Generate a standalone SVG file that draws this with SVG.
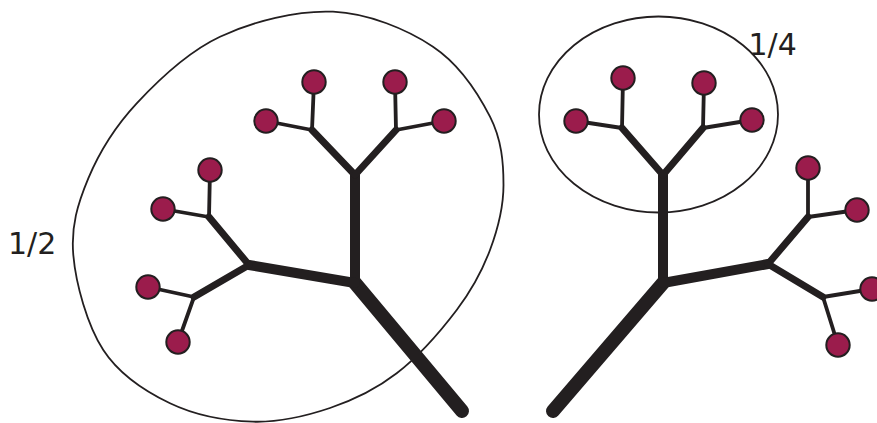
<svg xmlns="http://www.w3.org/2000/svg" width="877" height="423" viewBox="0 0 877 423">
<style>
.outline{fill:none;stroke:#231f20;stroke-width:1.8}
.br{stroke:#231f20;stroke-linecap:round;fill:none}
.w0{stroke-width:14}
.w1{stroke-width:10}
.w2{stroke-width:7}
.w3{stroke-width:3.8}
.leaf{fill:#9b1c4c;stroke:#231f20;stroke-width:2}
.lbl{font-family:"DejaVu Sans","Liberation Sans",sans-serif;font-size:30px;fill:#231f20}
</style>
<rect width="877" height="423" fill="#ffffff"/>
<g id="regions">
<path id="half" class="outline" d="M333,11.7 C368.5,13.4 406.8,29.2 433,46.7 C459.2,64.2 478.25,93.65 490,116.7 C501.75,139.75 503.5,162.8 503.5,185 C503.5,207.2 497.8,229.2 490,250 C482.2,270.8 472.25,289.45 456.7,310 C441.15,330.55 417.8,357 396.7,373.3 C375.6,389.6 353.95,399.93 330,408 C306.05,416.07 279.7,422.48 253,421.7 C226.3,420.92 194.95,415.25 170,403.3 C145.05,391.35 119.4,374.7 103.3,350 C87.2,325.3 75.8,283.6 73.3,255 C70.8,226.4 77.7,203.6 88.3,178.3 C98.9,153 114.75,126.9 136.7,103.3 C158.65,79.7 187.3,52 220,36.7 C252.7,21.4 297.5,10.03 333,11.7 Z"/>
<ellipse id="quarter" class="outline" cx="658.5" cy="114.5" rx="119.5" ry="98"/>
</g>
<g id="connectors">
<line class="br w0" x1="355" y1="283" x2="462" y2="411"/>
<line class="br w1" x1="355" y1="283" x2="355" y2="175"/>
<line class="br w1" x1="355" y1="283" x2="249" y2="265"/>
<line class="br w2" x1="355" y1="175" x2="312" y2="130"/>
<line class="br w2" x1="355" y1="175" x2="396" y2="130"/>
<line class="br w2" x1="249" y1="265" x2="209" y2="217"/>
<line class="br w2" x1="249" y1="265" x2="194" y2="297"/>
<line class="br w3" x1="312" y1="130" x2="314" y2="82"/>
<line class="br w3" x1="312" y1="130" x2="266" y2="121"/>
<line class="br w3" x1="396" y1="130" x2="395" y2="82"/>
<line class="br w3" x1="396" y1="130" x2="444" y2="121"/>
<line class="br w3" x1="209" y1="217" x2="210" y2="170"/>
<line class="br w3" x1="209" y1="217" x2="163" y2="209"/>
<line class="br w3" x1="194" y1="297" x2="148" y2="287"/>
<line class="br w3" x1="194" y1="297" x2="178" y2="342"/>
<line class="br w0" x1="663" y1="283" x2="553" y2="411"/>
<line class="br w1" x1="663" y1="283" x2="663" y2="175"/>
<line class="br w1" x1="663" y1="283" x2="768" y2="264"/>
<line class="br w2" x1="663" y1="175" x2="622" y2="128"/>
<line class="br w2" x1="663" y1="175" x2="703" y2="128"/>
<line class="br w2" x1="768" y1="264" x2="808" y2="217"/>
<line class="br w2" x1="768" y1="264" x2="823" y2="297"/>
<line class="br w3" x1="622" y1="128" x2="623" y2="78"/>
<line class="br w3" x1="622" y1="128" x2="576" y2="121"/>
<line class="br w3" x1="703" y1="128" x2="704" y2="83"/>
<line class="br w3" x1="703" y1="128" x2="752" y2="120"/>
<line class="br w3" x1="808" y1="217" x2="808" y2="168"/>
<line class="br w3" x1="808" y1="217" x2="857" y2="210"/>
<line class="br w3" x1="823" y1="297" x2="872" y2="289"/>
<line class="br w3" x1="823" y1="297" x2="838" y2="345"/>
</g>
<g id="leaf-l1"><circle class="leaf" cx="314" cy="82" r="11.7"/></g>
<g id="leaf-l2"><circle class="leaf" cx="266" cy="121" r="11.7"/></g>
<g id="leaf-l3"><circle class="leaf" cx="395" cy="82" r="11.7"/></g>
<g id="leaf-l4"><circle class="leaf" cx="444" cy="121" r="11.7"/></g>
<g id="leaf-l5"><circle class="leaf" cx="210" cy="170" r="11.7"/></g>
<g id="leaf-l6"><circle class="leaf" cx="163" cy="209" r="11.7"/></g>
<g id="leaf-l7"><circle class="leaf" cx="148" cy="287" r="11.7"/></g>
<g id="leaf-l8"><circle class="leaf" cx="178" cy="342" r="11.7"/></g>
<g id="leaf-r1"><circle class="leaf" cx="623" cy="78" r="11.7"/></g>
<g id="leaf-r2"><circle class="leaf" cx="576" cy="121" r="11.7"/></g>
<g id="leaf-r3"><circle class="leaf" cx="704" cy="83" r="11.7"/></g>
<g id="leaf-r4"><circle class="leaf" cx="752" cy="120" r="11.7"/></g>
<g id="leaf-r5"><circle class="leaf" cx="808" cy="168" r="11.7"/></g>
<g id="leaf-r6"><circle class="leaf" cx="857" cy="210" r="11.7"/></g>
<g id="leaf-r7"><circle class="leaf" cx="872" cy="289" r="11.7"/></g>
<g id="leaf-r8"><circle class="leaf" cx="838" cy="345" r="11.7"/></g>
<g id="labels">
<text class="lbl" x="8" y="254">1/2</text>
<text class="lbl" x="748.5" y="55">1/4</text>
</g>
</svg>
